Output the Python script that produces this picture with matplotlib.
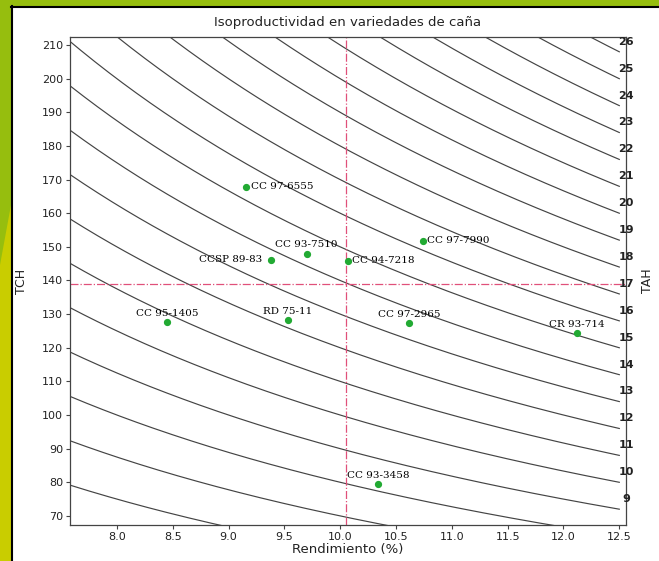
import numpy as np
import matplotlib.pyplot as plt
from matplotlib.patches import Rectangle, Polygon

# isolines of TAH (t sugar / ha) = TCH * rendimiento / 100
tah_levels = list(range(6, 27))
tah_labels = list(range(9, 27))

# varieties: rendimiento (%), TCH, label
variedades = ['CC 97-6555', 'CC 93-7510', 'CCSP 89-83', 'CC 94-7218', 'CC 97-7990',
              'CC 95-1405', 'RD 75-11', 'CC 97-2965', 'CR 93-714', 'CC 93-3458']
rendimiento = [9.16, 9.70, 9.38, 10.07, 10.74, 8.45, 9.53, 10.62, 12.12, 10.34]
tch = [167.8, 148.0, 146.2, 145.9, 151.8, 127.6, 128.2, 127.3, 124.4, 79.5]
# where the label sits: 'r' right, 'l' left, 'a' above
pos_label = ['r', 'a', 'l', 'r', 'r', 'a', 'a', 'a', 'a', 'a']

media_rend = 10.05
media_tch = 139.0

fig = plt.figure(figsize=(6.59, 5.61), dpi=100)
fig.patch.set_facecolor('white')

# green frame like the slide
bg = fig.add_axes([0, 0, 1, 1], zorder=-5)
bg.set_xlim(0, 659)
bg.set_ylim(561, 0)
bg.axis('off')
bg.add_patch(Rectangle((0, 0), 659, 6, color='#96be0e', lw=0))
bg.add_patch(Rectangle((0, 0), 11, 561, color='#96be0e', lw=0))
bg.add_patch(Polygon([(11, 205), (11, 561), (0, 561), (0, 265)], color='#c9cd00', lw=0))
bg.plot([11, 659], [6.5, 6.5], color='black', lw=1.5)
bg.plot([11.5, 11.5], [6, 561], color='black', lw=1.5)

ax = fig.add_axes([70 / 659, 1 - 525 / 561, 556 / 659, 488 / 561])
xmin, xmax = 7.58, 12.56
ymin, ymax = 67.3, 212.4

x = np.linspace(xmin, 12.5, 200)
for t in tah_levels:
    ax.plot(x, t * 100 / x, color='#444444', lw=0.85)

for t in tah_labels:
    ax.text(xmax, t * 100 / 12.5 + 3.0, str(t), ha='center', va='center',
            fontsize=8, fontweight='bold', color='#222222', clip_on=False)

ax.axvline(media_rend, color='#e0507a', lw=0.9, ls='-.')
ax.axhline(media_tch, color='#e0507a', lw=0.9, ls='-.')

ax.plot(rendimiento, tch, 'o', color='#22aa33', ms=4.2, zorder=5)
for name, xv, yv, p in zip(variedades, rendimiento, tch, pos_label):
    if p == 'r':
        ax.annotate(name, (xv, yv), xytext=(3, 0), textcoords='offset points',
                    ha='left', va='center', fontsize=7.5, family='DejaVu Serif')
    elif p == 'l':
        ax.annotate(name, (xv, yv), xytext=(-6, 0), textcoords='offset points',
                    ha='right', va='center', fontsize=7.5, family='DejaVu Serif')
    else:
        ax.annotate(name, (xv, yv), xytext=(0, 3), textcoords='offset points',
                    ha='center', va='bottom', fontsize=7.5, family='DejaVu Serif')

ax.set_xlim(xmin, xmax)
ax.set_ylim(ymin, ymax)
ax.set_xticks(np.arange(8.0, 12.51, 0.5))
ax.set_xticklabels(['%.1f' % v for v in np.arange(8.0, 12.51, 0.5)])
ax.set_yticks(np.arange(70, 211, 10))
ax.tick_params(labelsize=8, length=3, width=0.8, color='#444444', pad=2,
               labelcolor='#222222')
for s in ax.spines.values():
    s.set_color('#444444')
    s.set_linewidth(0.9)

ax.set_title('Isoproductividad en variedades de caña', fontsize=9.5, pad=8,
             color='#222222')
ax.set_xlabel('Rendimiento (%)', fontsize=9.5, labelpad=1, color='#222222')
ax.set_ylabel('TCH', fontsize=9, labelpad=10, color='#222222')
ax.text(1.038, 0.5, 'TAH', rotation=90, transform=ax.transAxes, ha='center',
        va='center', fontsize=9, color='#222222')

fig.savefig('out.png', dpi=100)
